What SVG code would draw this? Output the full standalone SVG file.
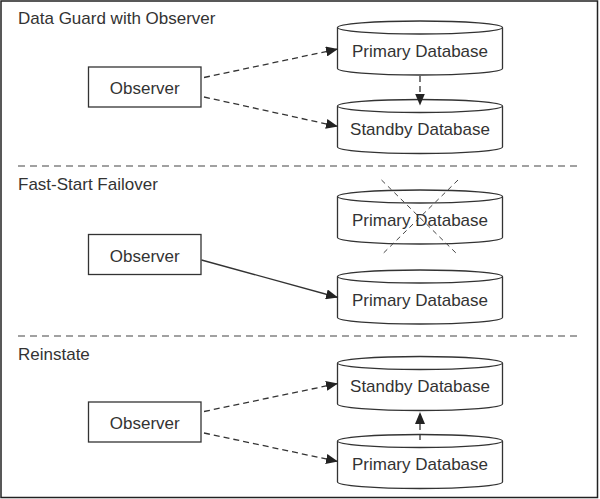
<svg xmlns="http://www.w3.org/2000/svg" width="600" height="499" viewBox="0 0 600 499">
<style>
text{font-family:"Liberation Sans",Arial,sans-serif;font-size:17px;fill:#333}
.t{text-anchor:middle}
.shape{fill:#fff;stroke:#333;stroke-width:1.3}
.sep{stroke:#444;stroke-width:1.2;stroke-dasharray:7 5;fill:none}
.dash{stroke:#333;stroke-width:1.3;stroke-dasharray:6 4;fill:none}
.solid{stroke:#333;stroke-width:1.3;fill:none}
.cross{stroke:#444;stroke-width:1;stroke-dasharray:5 4;fill:none}
</style>
<defs>
<marker id="ah" viewBox="0 0 12 10" refX="12" refY="5" markerWidth="12" markerHeight="10" markerUnits="userSpaceOnUse" orient="auto">
<path d="M0,0 L12,5 L0,10 z" fill="#222"/>
</marker>
<g id="cyl">
<path class="shape" d="M0,6.5 L0,47.5 A82.5,6.5 0 0 0 165,47.5 L165,6.5"/>
<ellipse class="shape" cx="82.5" cy="6.5" rx="82.5" ry="6.5"/>
</g>
</defs>
<rect x="0" y="0" width="600" height="499" fill="#fff"/>
<rect x="1" y="1" width="596.5" height="496.5" fill="none" stroke="#222" stroke-width="1.5"/>
<line class="sep" x1="18" y1="166" x2="582" y2="166"/>
<line class="sep" x1="18" y1="336" x2="582" y2="336"/>
<text x="18" y="24">Data Guard with Observer</text>
<text x="18" y="190">Fast-Start Failover</text>
<text x="18" y="360">Reinstate</text>

<g id="obs1"><rect class="shape" x="88.5" y="67" width="112.5" height="40"/><text class="t" x="144.75" y="94">Observer</text></g>
<g id="prim1"><use href="#cyl" x="337.5" y="21"/><text class="t" x="420" y="57">Primary Database</text></g>
<g id="stby1"><use href="#cyl" x="337.5" y="99.5"/><text class="t" x="420" y="135">Standby Database</text></g>

<g id="obs2"><rect class="shape" x="88.5" y="234.5" width="112.5" height="40"/><text class="t" x="144.75" y="261.5">Observer</text></g>
<g id="primfail2"><use href="#cyl" x="337.5" y="190"/><text class="t" x="420" y="225.5">Primary Database</text>
<line class="cross" x1="381.5" y1="180" x2="458" y2="255"/><line class="cross" x1="458" y1="180" x2="381.5" y2="255"/></g>
<g id="prim2"><use href="#cyl" x="337.5" y="270"/><text class="t" x="420" y="305.5">Primary Database</text></g>

<g id="obs3"><rect class="shape" x="88.5" y="402" width="112.5" height="40"/><text class="t" x="144.75" y="429">Observer</text></g>
<g id="stby3"><use href="#cyl" x="337.5" y="356.5"/><text class="t" x="420" y="392">Standby Database</text></g>
<g id="prim3"><use href="#cyl" x="337.5" y="434.5"/><text class="t" x="420" y="470">Primary Database</text></g>

<g id="connectors">
<line class="dash" x1="204" y1="77.5" x2="338" y2="49" marker-end="url(#ah)"/>
<line class="dash" x1="204" y1="97" x2="338" y2="126.5" marker-end="url(#ah)"/>
<line class="dash" x1="420" y1="76" x2="420" y2="105.5" marker-end="url(#ah)"/>
<line class="solid" x1="201.5" y1="260" x2="338" y2="297.5" marker-end="url(#ah)"/>
<line class="dash" x1="204" y1="411.5" x2="338" y2="383.5" marker-end="url(#ah)"/>
<line class="dash" x1="204" y1="433" x2="338" y2="461.5" marker-end="url(#ah)"/>
<line class="dash" x1="420" y1="440" x2="420" y2="412" marker-end="url(#ah)"/>
</g>
</svg>
